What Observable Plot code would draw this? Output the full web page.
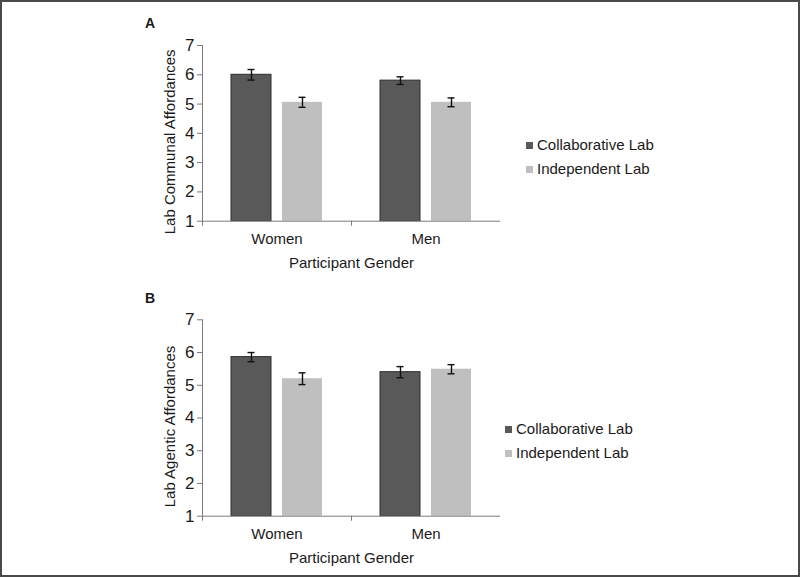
<!DOCTYPE html>
<html>
<head>
<meta charset="utf-8">
<script src="https://cdn.jsdelivr.net/npm/d3@7"></script>
<script src="https://cdn.jsdelivr.net/npm/@observablehq/plot@0.6"></script>
<style>
  html, body { margin: 0; padding: 0; background: #fff; }
  #wrap { position: relative; width: 800px; height: 577px; background: #fff; overflow: hidden;
          font-family: "Liberation Sans", Arial, sans-serif; color: #1a1a1a; }
  #border { position: absolute; left: 0; top: 0; width: 800px; height: 577px; box-sizing: border-box;
            border: 2px solid #4a4a4a; pointer-events: none; }
  .abs { position: absolute; }
  .plabel { font-weight: bold; font-size: 14px; line-height: 14px; }
  .lg-swatch > svg { margin-right: 4px !important; }
  .lg-swatch { line-height: 24px; padding-bottom: 0 !important; }
  g[aria-label="y-axis tick label"] { font-size: 17px !important; }
  g[aria-label="y-axis tick label"] text { font-size: 17px !important; }
</style>
</head>
<body>
<div id="wrap">
  <div class="abs plabel" style="left:145px; top:16px;">A</div>
  <div class="abs plabel" style="left:145px; top:291px;">B</div>
  <div id="panelA" class="abs" style="left:0; top:0;"></div>
  <div id="panelB" class="abs" style="left:0; top:276px;"></div>
  <div id="legendA" class="abs" style="left:526px; top:133px;"></div>
  <div id="legendB" class="abs" style="left:505px; top:417px;"></div>
  <div id="border"></div>
</div>
<script>
// ---- data ----
const genders = ["Women", "Men"];
const labs = ["Collaborative Lab", "Independent Lab"];
const yTicks = [1, 2, 3, 4, 5, 6, 7];
const labColors = ["#595959", "#bfbfbf"];

// Panel A: Lab Communal Affordances (Women, Men)
const communalCollab = [6.00, 5.80];
const communalIndep  = [5.06, 5.06];
const communalCollabErr = [0.18, 0.13];
const communalIndepErr  = [0.17, 0.15];

// Panel B: Lab Agentic Affordances (Women, Men)
const agenticCollab = [5.86, 5.40];
const agenticIndep  = [5.20, 5.49];
const agenticCollabErr = [0.14, 0.17];
const agenticIndepErr  = [0.18, 0.14];

function rows(collab, indep, collabErr, indepErr) {
  const out = [];
  genders.forEach((g, i) => {
    out.push({gender: g, lab: labs[0], mean: collab[i], err: collabErr[i]});
    out.push({gender: g, lab: labs[1], mean: indep[i], err: indepErr[i]});
  });
  return out;
}

const FONT = "'Liberation Sans', Arial, sans-serif";

function panel({data, yLabel, height, marginTop, marginBottom}) {
  const plot = Plot.plot({
    width: 520, height, marginLeft: 202, marginRight: 20, marginTop, marginBottom,
    style: {fontFamily: FONT, fontSize: "15px", color: "#1a1a1a", background: "transparent", overflow: "visible"},
    fx: {domain: genders, paddingInner: 0, paddingOuter: 0, axis: null},
    x: {domain: labs, axis: null, paddingInner: 0.22, paddingOuter: 0.57},
    y: {domain: [1, 7], axis: null, labelArrow: "none"},
    color: {domain: labs, range: labColors},
    marks: [
      Plot.barY(data, {fx: "gender", x: "lab", y1: 1, y2: "mean", fill: "lab"}),
      Plot.barY(data.filter(d => d.lab === labs[0]),
        {fx: "gender", x: "lab", y1: 1, y2: "mean", fill: "none", stroke: "#2e2e2e", strokeWidth: 1}),
      Plot.ruleX(data, {fx: "gender", x: "lab", y1: d => d.mean - d.err, y2: d => d.mean + d.err,
        stroke: "#111", strokeWidth: 1.4}),
      Plot.tickY(data, {fx: "gender", x: "lab", y: d => d.mean - d.err, insetLeft: 16.5, insetRight: 16.5,
        stroke: "#111", strokeWidth: 1.4}),
      Plot.tickY(data, {fx: "gender", x: "lab", y: d => d.mean + d.err, insetLeft: 16.5, insetRight: 16.5,
        stroke: "#111", strokeWidth: 1.4}),
      Plot.ruleY([1], {stroke: "#7a7a7a", strokeWidth: 1}),
      Plot.axisY(yTicks, {anchor: "left", tickSize: 5, tickPadding: 3, stroke: "#7a7a7a", fill: "#1a1a1a",
        fontSize: 17, label: null}),
      Plot.axisFx({anchor: "bottom", tickSize: 0, tickPadding: 12, fill: "#1a1a1a", fontSize: 15,
        label: "Participant Gender", labelAnchor: "center", labelOffset: 47, labelArrow: "none"})
    ]
  });
  // axis line on the left, category boundary ticks and the y title, placed from the plot's own scales
  const fx = plot.scale("fx"), y = plot.scale("y");
  const svg = d3.select(plot.tagName.toLowerCase() === "svg" ? plot : plot.querySelector("svg"));
  const y0 = y.apply(1), y7 = y.apply(7);
  const left = fx.apply(genders[0]);
  const step = fx.apply(genders[1]) - fx.apply(genders[0]);
  const edges = [left, ...genders.map(g => fx.apply(g) + step)];
  const g = svg.append("g").attr("stroke", "#7a7a7a").attr("stroke-width", 1);
  g.append("line").attr("x1", left + 0.5).attr("x2", left + 0.5).attr("y1", y7).attr("y2", y0 + 5);
  edges.slice(1, -1).forEach(e => g.append("line").attr("x1", e + 0.5).attr("x2", e + 0.5).attr("y1", y0).attr("y2", y0 + 5));
  svg.append("text")
    .attr("transform", `translate(${left - 27},${(y0 + y7) / 2 + 9}) rotate(-90)`)
    .attr("text-anchor", "middle")
    .attr("font-family", FONT).attr("font-size", 15).attr("fill", "#1a1a1a")
    .text(yLabel);
  return plot;
}

document.getElementById("panelA").append(panel({
  data: rows(communalCollab, communalIndep, communalCollabErr, communalIndepErr),
  yLabel: "Lab Communal Affordances", height: 276, marginTop: 45, marginBottom: 55.3
}));
document.getElementById("panelB").append(panel({
  data: rows(agenticCollab, agenticIndep, agenticCollabErr, agenticIndepErr),
  yLabel: "Lab Agentic Affordances", height: 296, marginTop: 43.3, marginBottom: 56.3
}));

function legend() {
  return Plot.legend({
    color: {domain: labs, range: labColors},
    swatchSize: 7, columns: 1, className: "lg",
    style: {fontFamily: FONT, fontSize: "15px", color: "#1a1a1a"}
  });
}
document.getElementById("legendA").append(legend());
document.getElementById("legendB").append(legend());
</script>
</body>
</html>
